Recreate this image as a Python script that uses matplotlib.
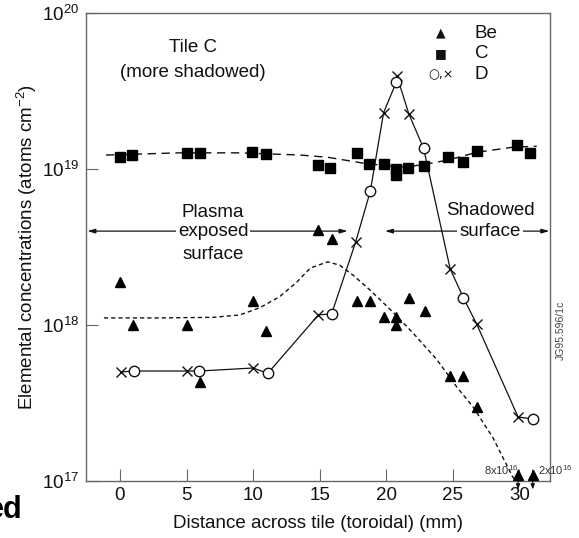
import numpy as np
import matplotlib.pyplot as plt
from matplotlib.ticker import FixedLocator, NullLocator

plt.rcParams['font.family'] = ['Liberation Sans', 'DejaVu Sans']
plt.rcParams['mathtext.fontset'] = 'custom'
plt.rcParams['mathtext.rm'] = 'Liberation Sans'
plt.rcParams['mathtext.it'] = 'Liberation Sans:italic'
plt.rcParams['mathtext.bf'] = 'Liberation Sans:bold'

# Be (triangles); last two are below the axis (8e16, 2e16)
be_x = [0, 1, 5, 6, 10, 11, 14.9, 15.9, 17.8, 18.8, 19.8, 20.7, 20.75, 21.7, 22.9,
        24.8, 25.8, 26.8, 29.9, 31.0]
be_y = [1.9e18, 1.0e18, 1.0e18, 4.3e17, 1.43e18, 9.1e17, 4.05e18, 3.55e18, 1.43e18,
        1.43e18, 1.12e18, 1.12e18, 1.0e18, 1.5e18, 1.23e18, 4.7e17, 4.7e17, 3.0e17,
        8e16, 2e16]

# C (squares)
c_x = [0, 0.9, 5, 6, 9.9, 11, 14.9, 15.8, 17.8, 18.7, 19.8, 20.75, 20.75, 21.65,
       22.8, 24.6, 25.8, 26.8, 29.85, 30.8]
c_y = [1.19e19, 1.23e19, 1.26e19, 1.26e19, 1.28e19, 1.24e19, 1.06e19, 1.01e19,
       1.27e19, 1.08e19, 1.08e19, 1.0e19, 9.1e18, 1.01e19, 1.05e19, 1.19e19,
       1.11e19, 1.30e19, 1.43e19, 1.27e19]

# D, two methods (circles and crosses)
d_circ_x = [1.05, 5.95, 11.1, 15.9, 18.8, 20.75, 22.8, 25.8, 31.0]
d_circ_y = [5.07e17, 5.07e17, 4.9e17, 1.18e18, 7.2e18, 3.6e19, 1.36e19, 1.49e18, 2.5e17]
d_cross_x = [0.1, 5.0, 10.0, 14.9, 17.7, 19.8, 20.8, 21.7, 24.8, 26.8, 29.9]
d_cross_y = [5.0e17, 5.07e17, 5.3e17, 1.16e18, 3.4e18, 2.3e19, 3.95e19, 2.25e19,
             2.29e18, 1.01e18, 2.57e17]

# hand-drawn trend lines
c_fit_x = [-1.05, 4.5, 9, 13.5, 15.6, 18.3, 20, 21.5, 23.1, 24.6, 26.8, 29.5, 31.3]
c_fit_y = [1.23e19, 1.27e19, 1.27e19, 1.23e19, 1.19e19, 1.09e19, 1.05e19, 1.03e19,
           1.08e19, 1.14e19, 1.28e19, 1.38e19, 1.4e19]
be_fit_x = [-1.2, 3, 7, 9.0, 10.5, 12.0, 13.3, 14.3, 15.6, 16.5, 17.5, 18.8, 20.5,
            22.0, 23.8, 25.3, 26.5, 28.0, 29.5, 29.8]
be_fit_y = [1.11e18, 1.11e18, 1.12e18, 1.16e18, 1.29e18, 1.52e18, 1.89e18, 2.32e18,
            2.54e18, 2.42e18, 2.09e18, 1.67e18, 1.21e18, 8.9e17, 6.0e17, 4.0e17,
            3.0e17, 1.9e17, 1.06e17, 1.0e17]

x_ticks = [0, 5, 10, 15, 20, 25, 30]
y_ticks = [1e17, 1e18, 1e19, 1e20]

ymin, ymax = 1e17, 1e20
floor = 1.1e17
ink = '#111111'
frame = '#666666'
fs = 13.5

fig = plt.figure(figsize=(5.79, 5.38), dpi=100)
ax = fig.add_axes([0.1485, 0.106, 0.8015, 0.8697])
ax.set_yscale('log')
ax.set_xlim(-2.55, 32.3)
ax.set_ylim(ymin, ymax)

# fits
ax.plot(c_fit_x, c_fit_y, color=ink, lw=1.0, dashes=(6, 4), zorder=2)
ax.plot(be_fit_x, be_fit_y, color=ink, lw=1.0, dashes=(3, 2.2), zorder=2)

# D connecting line
d_all = sorted(zip(d_circ_x + d_cross_x, d_circ_y + d_cross_y))
ax.plot([p[0] for p in d_all], [p[1] for p in d_all], color=ink, lw=0.9, zorder=3)

# markers
be_plot = np.maximum(be_y, floor)
ax.plot(be_x, be_plot, '^', color='black', ms=7.5, ls='none', zorder=4, clip_on=False)
ax.plot(c_x, c_y, 's', color='black', ms=7, ls='none', zorder=4)
ax.plot(d_cross_x, d_cross_y, 'x', color=ink, mew=1.0, ms=7.5, ls='none', zorder=4.5)
ax.plot(d_circ_x, d_circ_y, 'o', mfc='white', mec=ink, mew=1.0, ms=7.5, ls='none', zorder=5)

# below-axis Be values: small arrows pointing down past the axis
for bx, by in zip(be_x, be_y):
    if by < ymin:
        ax.annotate('', xy=(bx, -0.018), xycoords=('data', 'axes fraction'),
                    xytext=(0, 14), textcoords='offset points',
                    arrowprops=dict(arrowstyle='-|>,head_length=0.3,head_width=0.12',
                                    color=ink, lw=0.8, shrinkA=0, shrinkB=0),
                    annotation_clip=False, zorder=3)
ax.annotate(r'8x10$^{16}$', xy=(be_x[-2], floor), xytext=(0, 0), textcoords='offset points',
            ha='right', va='baseline', fontsize=8, color='#333333')
ax.annotate(r'2x10$^{16}$', xy=(be_x[-1], floor), xytext=(4, 0), textcoords='offset points',
            ha='left', va='baseline', fontsize=8, color='#333333', annotation_clip=False)

# region arrows
arrow_y = 4.0e18
ap = dict(arrowstyle='<|-|>,head_length=0.45,head_width=0.13', color=ink, lw=0.9,
          shrinkA=0, shrinkB=0)
ax.annotate('', xy=(-2.45, arrow_y), xytext=(17.1, arrow_y), arrowprops=ap, zorder=1)
ax.annotate('', xy=(19.9, arrow_y), xytext=(32.25, arrow_y), arrowprops=ap, zorder=1)

wbox = dict(facecolor='white', edgecolor='none', pad=1.5)
ax.text(7.0, arrow_y, 'exposed', ha='center', va='center', fontsize=fs, color=ink,
        bbox=wbox, zorder=6)
ax.annotate('Plasma', xy=(7.0, arrow_y), xytext=(0, 13.2), textcoords='offset points',
            ha='center', va='center', fontsize=fs, color=ink)
ax.annotate('surface', xy=(7.0, arrow_y), xytext=(0, -17), textcoords='offset points',
            ha='center', va='center', fontsize=fs, color=ink)
ax.text(27.8, arrow_y, 'surface', ha='center', va='center', fontsize=fs, color=ink,
        bbox=wbox, zorder=6)
ax.annotate('Shadowed', xy=(27.8, arrow_y), xytext=(0, 15), textcoords='offset points',
            ha='center', va='center', fontsize=fs, color=ink)

ax.text(5.5, 6.0e19, 'Tile C', ha='center', va='center', fontsize=fs, color=ink)
ax.text(5.5, 4.15e19, '(more shadowed)', ha='center', va='center', fontsize=fs, color=ink)

# key
key_sym = ['\u25b2', '\u25a0', '\u25cb,\u00d7']
key_lab = ['Be', 'C', 'D']
key_ha = ['center', 'center', 'right']
key_sx = [0.765, 0.765, 0.792]
for i in range(3):
    yy = 0.957 - i * 0.044
    ax.text(key_sx[i], yy, key_sym[i], transform=ax.transAxes, ha=key_ha[i], va='center',
            fontsize=9, color=ink, family=['DejaVu Sans'])
    ax.text(0.838, yy, key_lab[i], transform=ax.transAxes, ha='left', va='center',
            fontsize=fs, color=ink)

# axes styling
ax.xaxis.set_major_locator(FixedLocator(x_ticks))
ax.yaxis.set_major_locator(FixedLocator(y_ticks))
ax.yaxis.set_minor_locator(NullLocator())
ax.tick_params(axis='both', direction='in', length=8.5, width=0.8, color=frame,
               labelsize=fs, labelcolor=ink)
ax.tick_params(axis='x', pad=4)
ax.tick_params(axis='y', pad=5)
for sp in ax.spines.values():
    sp.set_color(frame)
    sp.set_linewidth(1.0)

ax.set_xlabel('Distance across tile (toroidal) (mm)', fontsize=fs, color=ink)
ax.set_ylabel('Elemental concentrations (atoms cm$^{-2}$)', fontsize=fs, color=ink)
ax.xaxis.set_label_coords(0.5, -0.073)
ax.yaxis.set_label_coords(-0.101, 0.5)

fig.text(0.968, 0.385, 'JG95.596/1c', rotation=90, ha='center', va='center',
         fontsize=7.5, color='#444444')
# fragment of a neighbouring caption, cut at the left edge as in the source
fig.text(0.038, 0.037, 'ed', ha='right', va='baseline', fontsize=22,
         fontweight='bold', color='black')

fig.savefig('out.png', dpi=100)
